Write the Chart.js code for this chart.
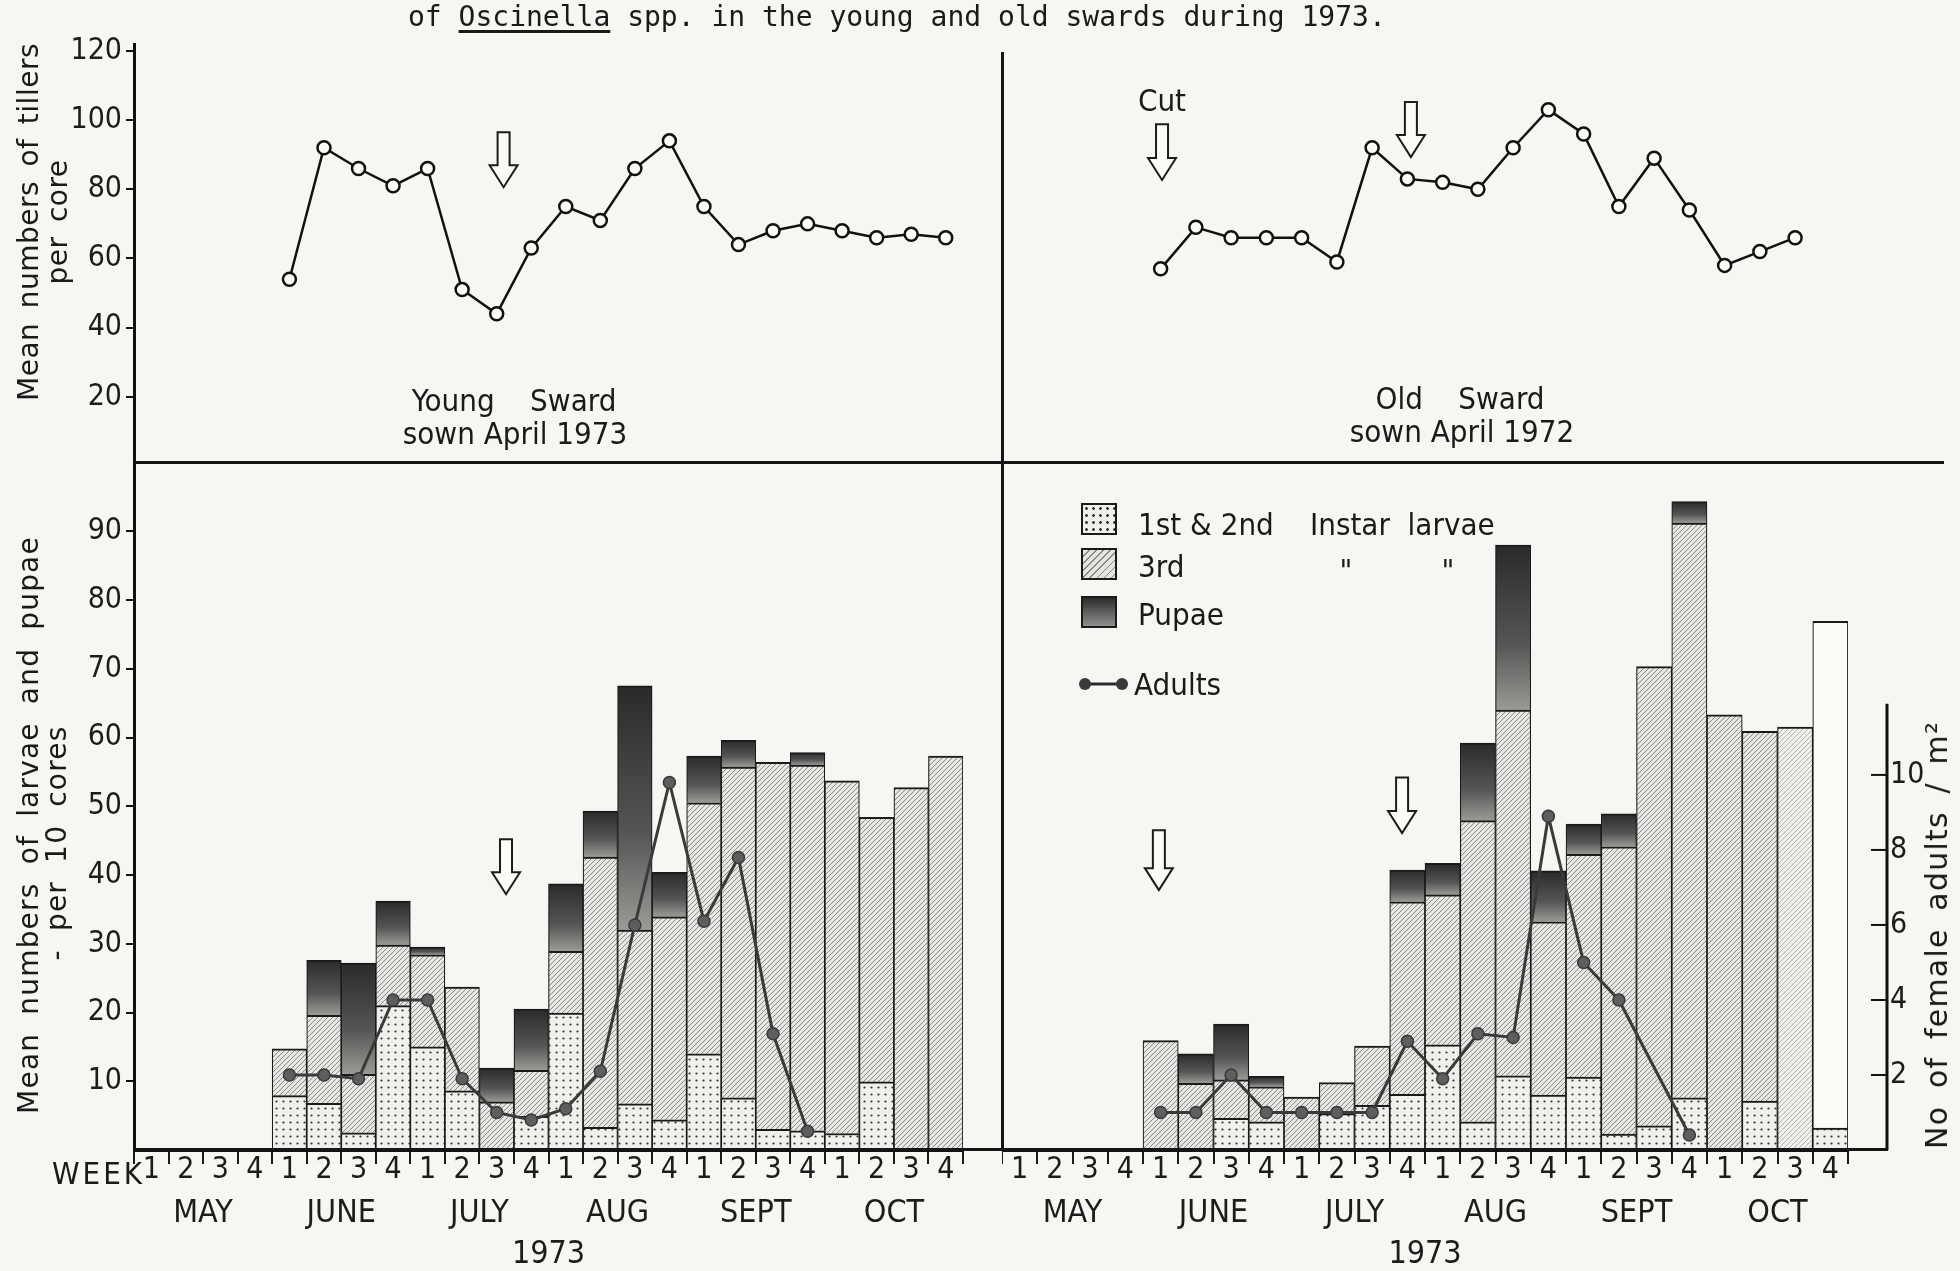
<!DOCTYPE html>
<html>
<head>
<meta charset="utf-8">
<script src="https://cdn.jsdelivr.net/npm/chart.js@4.4.1/dist/chart.umd.min.js"></script>
<style>
  html, body { margin: 0; padding: 0; background: #f6f6f3; }
  #page { position: relative; width: 1960px; height: 1271px; overflow: hidden; }
  canvas { position: absolute; }
  .txt { position: absolute; white-space: pre; color: #1a1a1a; font-family: 'DejaVu Sans Condensed', 'DejaVu Sans', sans-serif; font-size: 31px; line-height: 1; transform: translate(-50%, -50%); }
  .lt { transform: translate(0, -50%); }
  .vtxt { position: absolute; white-space: pre; color: #1a1a1a; font-family: 'DejaVu Sans', sans-serif; font-size: 28px; line-height: 1; word-spacing: 5px; letter-spacing: 0.5px; transform: translate(-50%, -50%) rotate(-90deg); }
  .rule { position: absolute; background: #151515; }
  .key { position: absolute; width: 36px; height: 32px; border: 2px solid #1a1a1a; box-sizing: border-box; }
  #title { position: absolute; left: 408px; top: 1px; font-family: 'DejaVu Sans Mono', 'Liberation Mono', monospace; font-size: 28px; line-height: 32px; color: #1a1a1a; white-space: pre; }
  #title u { text-decoration-thickness: 3px; text-underline-offset: 4px; }
</style>
</head>
<body>
<div id="page">
  <canvas id="tillersYoung" width="1002" height="470" style="left:0;top:0"></canvas>
  <canvas id="tillersOld" width="958" height="470" style="left:1002px;top:0"></canvas>
  <canvas id="larvaeYoung" width="1002" height="831" style="left:0;top:440px"></canvas>
  <canvas id="larvaeOld" width="958" height="831" style="left:1002px;top:440px"></canvas>

  <div id="title">of <u>Oscinella</u> spp. in the young and old swards during 1973.</div>

  <div class="rule" style="left:1001px;top:52px;width:3px;height:1099px"></div>
  <div class="rule" style="left:134px;top:461px;width:1810px;height:3px"></div>
  <div class="rule" style="left:134px;top:1148px;width:1754px;height:3px"></div>

  <div class="vtxt" style="left:29px;top:222px">Mean numbers of tillers</div>
  <div class="vtxt" style="left:58px;top:222px">per core</div>
  <div class="vtxt" style="left:29px;top:825px;letter-spacing:1.2px;word-spacing:8px">Mean numbers of larvae and pupae</div>
  <div class="vtxt" style="left:57px;top:843px;letter-spacing:1.2px;word-spacing:8px">- per 10 cores</div>
  <div class="vtxt" style="left:1937px;top:935px;font-size:30px;letter-spacing:1.2px;word-spacing:7px">No of female adults / m²</div>

  <div class="txt" style="left:514px;top:400px">Young    Sward</div>
  <div class="txt" style="left:515px;top:433px">sown April 1973</div>
  <div class="txt" style="left:1460px;top:398px">Old    Sward</div>
  <div class="txt" style="left:1462px;top:431px">sown April 1972</div>
  <div class="txt" style="left:1162px;top:100px">Cut</div>

  <div class="txt lt" style="left:52px;top:1173px;font-family:'Liberation Sans Narrow','DejaVu Sans Condensed',sans-serif;font-size:31px;letter-spacing:3px">WEEK</div>

  <div class="key" style="left:1081px;top:503px;background-color:#efefeb;background-image:radial-gradient(#333 1.1px, transparent 1.6px);background-size:7px 7px"></div>
  <div class="key" style="left:1081px;top:548px;background:repeating-linear-gradient(135deg, #e4e4e0 0 4px, #888 4px 5px)"></div>
  <div class="key" style="left:1081px;top:596px;background:linear-gradient(#2c2c2c, #8e8e8e)"></div>
  <div class="txt lt" style="left:1138px;top:524px">1st &amp; 2nd</div>
  <div class="txt lt" style="left:1310px;top:524px">Instar  larvae</div>
  <div class="txt lt" style="left:1138px;top:566px">3rd</div>
  <div class="txt" style="left:1346px;top:570px">"</div>
  <div class="txt" style="left:1448px;top:570px">"</div>
  <div class="txt lt" style="left:1138px;top:614px">Pupae</div>
  <svg style="position:absolute;left:1076px;top:672px" width="56" height="24">
    <line x1="9" y1="12" x2="46" y2="12" stroke="#2a2a2a" stroke-width="3"/>
    <circle cx="9" cy="12" r="6" fill="#3a3a3a"/>
    <circle cx="46" cy="12" r="6" fill="#3a3a3a"/>
  </svg>
  <div class="txt lt" style="left:1134px;top:684px">Adults</div>
</div>

<script>
// slots: MAY wk1 .. OCT wk4
const weekLabels = ['1','2','3','4','1','2','3','4','1','2','3','4','1','2','3','4','1','2','3','4','1','2','3','4'];
const monthLabels = ['MAY', 'JUNE', 'JULY', 'AUG', 'SEPT', 'OCT'];
const tillerTicks = [20, 40, 60, 80, 100, 120];
const larvaeTicks = [10, 20, 30, 40, 50, 60, 70, 80, 90];
const adultTicks = [2, 4, 6, 8, 10];

// mean tillers per core
const tillersYoung = [null, null, null, null, 54, 92, 86, 81, 86, 51, 44, 63, 75, 71, 86, 94, 75, 64, 68, 70, 68, 66, 67, 66];
const tillersOld   = [null, null, null, null, 57, 69, 66, 66, 66, 59, 92, 83, 82, 80, 92, 103, 96, 75, 89, 74, 58, 62, 66, null];

// young sward, larvae and pupae per 10 cores
const youngInstar12 = [null, null, null, null, 7.9, 6.8, 2.5, 21, 15, 8.6, 0, 4.9, 19.9, 3.3, 6.7, 4.4, 14, 7.6, 3, 2.8, 2.4, 9.9, 0, 0];
const youngInstar3  = [null, null, null, null, 6.8, 12.8, 8.5, 8.8, 13.4, 15.1, 7, 6.7, 9, 39.3, 25.3, 29.5, 36.5, 48.1, 53.4, 53.2, 51.3, 38.5, 52.7, 57.3];
const youngPupae    = [null, null, null, null, 0, 8, 16.2, 6.4, 1.1, 0, 4.9, 8.9, 9.8, 6.7, 35.5, 6.5, 6.8, 3.9, 0, 1.8, 0, 0, 0, 0];
const youngAdults   = [null, null, null, null, 2.0, 2.0, 1.9, 4.0, 4.0, 1.9, 1.0, 0.8, 1.1, 2.1, 6.0, 9.8, 6.1, 7.8, 3.1, 0.5, null, null, null, null];

// old sward
const oldInstar12 = [null, null, null, null, 0, 0, 4.6, 4.1, 0, 5.3, 6.5, 8.1, 15.3, 4.1, 10.8, 8, 10.6, 2.3, 3.5, 7.6, 0, 7.1, 0, 3.2];
const oldInstar3  = [null, null, null, null, 15.9, 9.7, 5.6, 5.1, 7.7, 4.5, 8.6, 28, 21.8, 43.8, 53.2, 25.2, 32.4, 41.8, 66.8, 83.6, 63.3, 53.8, 61.5, 73.7];
const oldPupae    = [null, null, null, null, 0, 4.3, 8.1, 1.5, 0, 0, 0, 4.6, 4.6, 11.3, 24, 7.4, 4.4, 4.8, 0, 3.1, 0, 0, 0, 0];
const oldAdults   = [null, null, null, null, 1.0, 1.0, 2.0, 1.0, 1.0, 1.0, 1.0, 2.9, 1.9, 3.1, 3.0, 8.9, 5.0, 4.0, null, 0.4, null, null, null, null];

const TICK_FONT = "'Liberation Sans Narrow', 'DejaVu Sans Condensed', sans-serif";
Chart.defaults.font.family = TICK_FONT;
Chart.defaults.font.size = 30;
Chart.defaults.color = '#1c1c1c';
Chart.defaults.animation = false;

function makeDots() {
  const c = document.createElement('canvas');
  c.width = 7; c.height = 7;
  const g = c.getContext('2d');
  g.fillStyle = '#efefeb'; g.fillRect(0, 0, 7, 7);
  g.fillStyle = '#333';
  g.beginPath(); g.arc(3.5, 3.5, 1.1, 0, Math.PI * 2); g.fill();
  return g.createPattern(c, 'repeat');
}

function makeHatch(bg, fg) {
  const s = 5;
  const c = document.createElement('canvas');
  c.width = s; c.height = s;
  const g = c.getContext('2d');
  g.fillStyle = bg; g.fillRect(0, 0, s, s);
  g.strokeStyle = fg; g.lineWidth = 1;
  g.beginPath();
  g.moveTo(0, s); g.lineTo(s, 0);
  g.moveTo(-1, 1); g.lineTo(1, -1);
  g.moveTo(s - 1, s + 1); g.lineTo(s + 1, s - 1);
  g.stroke();
  return g.createPattern(c, 'repeat');
}

const dotFill = makeDots();
const hatchFill = makeHatch('#e6e6e2', '#8a8a8a');
const hatchLight = makeHatch('#f0f0ed', '#b0b0b0');

function pupaeFill(low1, low2, pup) {
  return function (c) {
    const chart = c.chart;
    const i = c.dataIndex;
    if (!chart.chartArea || pup[i] == null) return '#444';
    const ys = chart.scales.y;
    const lower = (low1[i] || 0) + (low2[i] || 0);
    const y0 = ys.getPixelForValue(lower + pup[i]);
    const y1 = ys.getPixelForValue(lower);
    if (!(y1 - y0 > 1)) return '#333';
    const grad = chart.ctx.createLinearGradient(0, y0, 0, y1);
    grad.addColorStop(0, '#2a2a2a');
    grad.addColorStop(0.6, '#555');
    grad.addColorStop(1, '#9a9a96');
    return grad;
  };
}

const arrowPlugin = {
  id: 'arrows',
  afterDatasetsDraw(chart, args, opts) {
    const ctx = chart.ctx, xs = chart.scales.x, ys = chart.scales.y;
    ctx.save();
    ctx.lineWidth = 2; ctx.strokeStyle = '#1c1c1c'; ctx.fillStyle = '#fbfbf8';
    (opts.items || []).forEach(a => {
      const x = xs.getPixelForValue(a.at);
      const y0 = ys.getPixelForValue(a.from), y1 = ys.getPixelForValue(a.to);
      const hw = 6, hh = 14, head = 22;
      ctx.beginPath();
      ctx.moveTo(x - hw, y0); ctx.lineTo(x + hw, y0);
      ctx.lineTo(x + hw, y1 - head); ctx.lineTo(x + hh, y1 - head);
      ctx.lineTo(x, y1);
      ctx.lineTo(x - hh, y1 - head); ctx.lineTo(x - hw, y1 - head);
      ctx.closePath();
      ctx.fill(); ctx.stroke();
    });
    ctx.restore();
  }
};

// adults axis drawn beside the old-sward bars
const adultAxisPlugin = {
  id: 'adultAxis',
  afterDraw(chart, args, opts) {
    if (!opts.show) return;
    const s = chart.scales.y2, ctx = chart.ctx;
    const x = chart.chartArea.right + opts.gap;
    ctx.save();
    ctx.strokeStyle = '#111'; ctx.lineWidth = 3;
    ctx.beginPath();
    ctx.moveTo(x, s.getPixelForValue(0)); ctx.lineTo(x, s.getPixelForValue(opts.top));
    ctx.stroke();
    ctx.lineWidth = 2;
    ctx.font = '30px ' + TICK_FONT;
    ctx.fillStyle = '#1c1c1c'; ctx.textAlign = 'left'; ctx.textBaseline = 'middle';
    adultTicks.forEach(v => {
      const y = s.getPixelForValue(v);
      ctx.beginPath(); ctx.moveTo(x - 16, y); ctx.lineTo(x, y); ctx.stroke();
      ctx.fillText(String(v), x + 3, y);
    });
    ctx.restore();
  }
};

function tillerChart(id, values, showAxis, rightPad, arrows) {
  return new Chart(document.getElementById(id), {
    type: 'line',
    data: {
      labels: weekLabels,
      datasets: [{
        data: values,
        borderColor: '#111',
        borderWidth: 2.5,
        pointRadius: 6.5,
        pointBackgroundColor: '#fbfbf8',
        pointBorderColor: '#111',
        pointBorderWidth: 2.5,
        tension: 0
      }]
    },
    options: {
      responsive: false,
      layout: { autoPadding: false, padding: { top: 44, bottom: 4, left: 0, right: rightPad } },
      plugins: { legend: { display: false }, tooltip: { enabled: false }, arrows: { items: arrows } },
      scales: {
        x: { display: false, offset: true },
        y: {
          display: showAxis,
          min: 0, max: 122,
          afterFit: s => { s.width = showAxis ? 134 : 0; s.paddingTop = 0; s.paddingBottom = 0; },
          afterBuildTicks: s => { s.ticks = tillerTicks.map(v => ({ value: v })); },
          ticks: { padding: 4 },
          grid: { drawOnChartArea: false, tickLength: 8, color: '#111', lineWidth: 2 },
          border: { color: '#111', width: 3 }
        }
      }
    },
    plugins: [arrowPlugin]
  });
}

function larvaeChart(id, d12, d3, pup, adults, opts) {
  return new Chart(document.getElementById(id), {
    type: 'bar',
    data: {
      labels: weekLabels,
      datasets: [
        {
          type: 'line', label: 'Adults', data: adults, yAxisID: 'y2', order: 0,
          borderColor: '#3a3a3a', borderWidth: 3, spanGaps: true,
          pointRadius: 6, pointBackgroundColor: '#5e5e5e', pointBorderColor: '#3a3a3a', pointBorderWidth: 1.5
        },
        { label: '1st & 2nd Instar larvae', data: d12, order: 1, backgroundColor: dotFill },
        { label: '3rd Instar larvae', data: d3, order: 1, backgroundColor: opts.thirdFill },
        { label: 'Pupae', data: pup, order: 1, backgroundColor: pupaeFill(d12, d3, pup) }
      ]
    },
    options: {
      responsive: false,
      layout: { autoPadding: false, padding: { top: 22.5, bottom: 0, left: 0, right: opts.rightPad } },
      datasets: {
        bar: {
          barPercentage: 1, categoryPercentage: 1,
          borderColor: '#1a1a1a',
          borderWidth: { top: 2, left: 1.2, right: 1.2, bottom: 0 },
          borderSkipped: false
        }
      },
      plugins: {
        legend: { display: false }, tooltip: { enabled: false },
        arrows: { items: opts.arrows },
        adultAxis: { show: opts.adultAxis, gap: 39, top: 11.9 }
      },
      scales: {
        x: {
          stacked: true, offset: true,
          afterFit: s => { s.height = 48; },
          grid: { offset: true, drawOnChartArea: false, drawTicks: true, tickLength: 14, color: '#1a1a1a', lineWidth: 2 },
          border: { color: '#111', width: 3 },
          ticks: { padding: -12, maxRotation: 0, autoSkip: false }
        },
        x2: {
          type: 'category', labels: monthLabels, position: 'bottom', offset: true,
          afterFit: s => { s.height = 73; },
          grid: { display: false, drawTicks: false },
          border: { display: false },
          ticks: { padding: -4, font: { size: 32 } },
          title: { display: true, text: '1973', font: { size: 32, lineHeight: 1 }, padding: { top: 0, bottom: 0 } }
        },
        y: {
          display: opts.showAxis, stacked: true,
          min: 0, max: 100,
          afterFit: s => { s.width = opts.showAxis ? 134 : 0; },
          afterBuildTicks: s => { s.ticks = larvaeTicks.map(v => ({ value: v })); },
          ticks: { padding: 4 },
          grid: { drawOnChartArea: false, tickLength: 8, color: '#111', lineWidth: 2 },
          border: { color: '#111', width: 3 }
        },
        y2: { display: false, min: 0, max: 18.33 }
      }
    },
    plugins: [arrowPlugin, adultAxisPlugin]
  });
}

tillerChart('tillersYoung', tillersYoung, true, 39, [{ at: 10.2, from: 96.5, to: 80.6 }]);
tillerChart('tillersOld', tillersOld, false, 112, [
  { at: 4.04, from: 98.8, to: 82.7 },
  { at: 11.1, from: 105.2, to: 89.3 }
]);

larvaeChart('larvaeYoung', youngInstar12, youngInstar3, youngPupae, youngAdults, {
  showAxis: true, rightPad: 39, adultAxis: false,
  thirdFill: hatchFill,
  arrows: [{ at: 10.27, from: 45.2, to: 37.2 }]
});
larvaeChart('larvaeOld', oldInstar12, oldInstar3, oldPupae, oldAdults, {
  showAxis: false, rightPad: 112, adultAxis: true,
  thirdFill: c => c.dataIndex === 23 ? '#fbfbf8' : (c.dataIndex === 22 ? hatchLight : hatchFill),
  arrows: [{ at: 3.95, from: 46.5, to: 37.8 }, { at: 10.85, from: 54.2, to: 46.1 }]
});
</script>
</body>
</html>
